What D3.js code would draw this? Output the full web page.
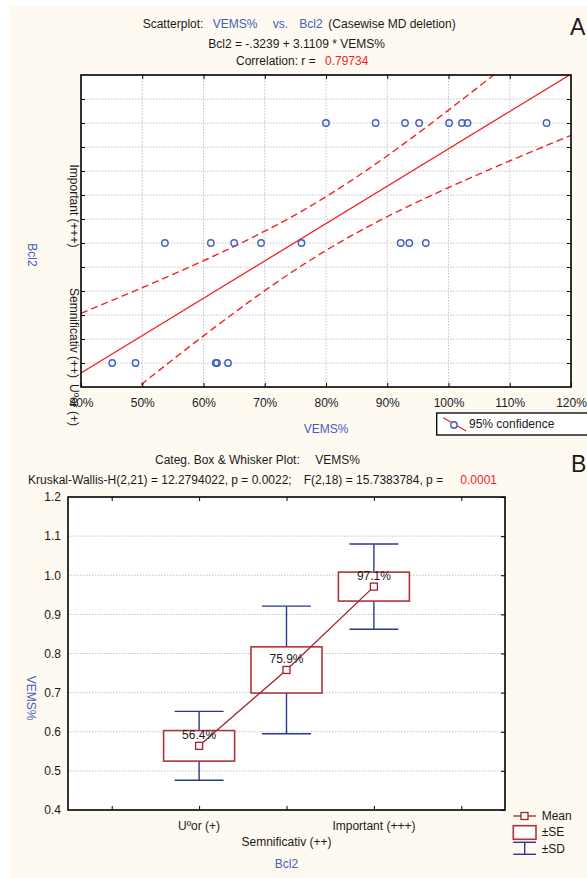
<!DOCTYPE html>
<html lang="en">
<head>
<meta charset="utf-8">
<title>VEMS% vs Bcl2</title>
<script src="https://d3js.org/d3.v7.min.js"></script>
<style>
  body { margin: 0; background: #fff; }
  text { font-family: "Liberation Sans", Arial, sans-serif; fill: #1a1a1a; }
</style>
</head>
<body>
<script>
var w = 587, h = 878;

// scatter data: VEMS% per Bcl2 group
var vemsUsor = [45.1, 48.9, 62.0, 62.2, 64.0];
var vemsSemn = [53.7, 61.2, 65.0, 69.4, 76.0, 92.2, 93.6, 96.3];
var vemsImp  = [80.0, 88.1, 92.9, 95.2, 100.1, 102.2, 103.1, 116.0];
var groupCodes = [1, 2, 3];
var groupLabels = ["Uºor (+)", "Semnificativ (++)", "Important (+++)"];
var xTicksA = [40, 50, 60, 70, 80, 90, 100, 110, 120];
var yGridA = [1.0, 1.2, 1.4, 1.6, 1.8, 2.0, 2.2, 2.4, 2.6, 2.8, 3.0, 3.2];

// box & whisker stats (VEMS as fraction)
var boxMeans = [0.564, 0.758, 0.971];
var boxSE = [0.039, 0.059, 0.037];
var boxSD = [0.088, 0.163, 0.109];
var boxPos = [2, 3, 4];
var boxLabels = ["56.4%", "75.9%", "97.1%"];
var xTicksB = [1, 2, 3, 4, 5];
var yTicksB = [0.4, 0.5, 0.6, 0.7, 0.8, 0.9, 1.0, 1.1, 1.2];

var blue = "#4560b8", red = "#f02424", boxRed = "#b0333b", meanRed = "#a3222c", navy = "#2a3790";
var fs = "12px";

var svg = d3.select("body").append("svg").attr("width", w).attr("height", h);
svg.append("rect").attr("x", 9).attr("y", 6).attr("width", w - 9).attr("height", h - 6).attr("fill", "#fef9f1");

// ---------------- panel A ----------------
var xA = d3.scaleLinear().domain([0.4, 1.2]).range([81, 571]);
var yA = d3.scaleLinear().domain([0.8, 3.4]).range([387, 75]);

svg.append("rect").attr("x", 81).attr("y", 75).attr("width", 490).attr("height", 312).attr("fill", "#fff");

svg.append("clipPath").attr("id", "clipA").append("rect")
  .attr("x", 81).attr("y", 75).attr("width", 490).attr("height", 312);

var grid = svg.append("g").attr("stroke", "#c4c4c4").attr("stroke-dasharray", "1.5,1.5").attr("stroke-width", 1);
grid.selectAll("line.v").data(xTicksA.slice(1, -1)).enter().append("line")
  .attr("x1", d => xA(d / 100)).attr("x2", d => xA(d / 100)).attr("y1", 75).attr("y2", 387);
grid.selectAll("line.h").data(yGridA).enter().append("line")
  .attr("y1", d => yA(d)).attr("y2", d => yA(d)).attr("x1", 81).attr("x2", 571);

// build points and fit
var pts = [];
[vemsUsor, vemsSemn, vemsImp].forEach(function(arr, i) {
  arr.forEach(function(v) { pts.push({x: v / 100, y: groupCodes[i]}); });
});
var n = pts.length;
var mx = d3.mean(pts, d => d.x), my = d3.mean(pts, d => d.y);
var sxx = d3.sum(pts, d => (d.x - mx) * (d.x - mx));
var sxy = d3.sum(pts, d => (d.x - mx) * (d.y - my));
var slope = sxy / sxx, icpt = my - slope * mx;
var sse = d3.sum(pts, d => Math.pow(d.y - (icpt + slope * d.x), 2));
var se = Math.sqrt(sse / (n - 2));
var tval = 2.093;
var xs = d3.range(0, 101).map(i => 0.4 + i * 0.008);
function band(sign) {
  return xs.map(x => [x, icpt + slope * x + sign * tval * se * Math.sqrt(1 / n + (x - mx) * (x - mx) / sxx)]);
}
var lineA = d3.line().x(d => xA(d[0])).y(d => yA(d[1]));
var fitG = svg.append("g").attr("clip-path", "url(#clipA)").attr("fill", "none").attr("stroke", red);
fitG.append("path").attr("d", lineA([[0.4, icpt + slope * 0.4], [1.2, icpt + slope * 1.2]])).attr("stroke-width", 1.3);
fitG.append("path").attr("d", lineA(band(1))).attr("stroke-width", 1.4).attr("stroke-dasharray", "7,4");
fitG.append("path").attr("d", lineA(band(-1))).attr("stroke-width", 1.4).attr("stroke-dasharray", "7,4");

svg.append("g").selectAll("circle").data(pts).enter().append("circle")
  .attr("cx", d => xA(d.x)).attr("cy", d => yA(d.y)).attr("r", 3.2)
  .attr("fill", "none").attr("stroke", blue).attr("stroke-width", 1.4);

// ticks
var axB = svg.append("g").attr("transform", "translate(0,387)")
  .call(d3.axisBottom(xA).tickValues(xTicksA.map(d => d / 100)).tickSize(-4).tickPadding(11)
    .tickFormat(d => Math.round(d * 100) + "%"));
axB.select(".domain").remove();
axB.selectAll("text").attr("font-size", fs).attr("fill", "#1a1a1a");
var axT = svg.append("g").attr("transform", "translate(0,75)")
  .call(d3.axisTop(xA).tickValues(xTicksA.slice(1, -1).map(d => d / 100)).tickSize(-4).tickFormat(""));
axT.select(".domain").remove();
var axL = svg.append("g").attr("transform", "translate(81,0)")
  .call(d3.axisLeft(yA).tickValues(yGridA).tickSize(-4).tickFormat(""));
axL.select(".domain").remove();
var axR = svg.append("g").attr("transform", "translate(571,0)")
  .call(d3.axisRight(yA).tickValues(yGridA).tickSize(-4).tickFormat(""));
axR.select(".domain").remove();
svg.selectAll(".tick line").attr("stroke", "#000");

svg.append("rect").attr("x", 81).attr("y", 75).attr("width", 490).attr("height", 312)
  .attr("fill", "none").attr("stroke", "#000").attr("stroke-width", 1.6);

// rotated category labels (Statistica places them offset by their own length)
groupCodes.forEach(function(g, i) {
  var t = svg.append("text").attr("font-size", fs).text(groupLabels[i]);
  var len = t.node().getComputedTextLength();
  t.attr("transform", "translate(74," + (yA(g) + len / 2) + ") rotate(90)")
   .attr("text-anchor", "start").attr("dy", "0.35em");
});
svg.append("text").attr("transform", "translate(32,255) rotate(90)").attr("text-anchor", "middle")
  .attr("dy", "0.35em").attr("font-size", fs).style("fill", blue).text("Bcl2");
svg.append("text").attr("x", 326).attr("y", 432.5).attr("text-anchor", "middle")
  .attr("font-size", fs).style("fill", blue).text("VEMS%");

// titles A
var t1 = svg.append("text").attr("y", 28.3).attr("font-size", fs);
t1.append("tspan").attr("x", 142.7).text("Scatterplot:");
t1.append("tspan").attr("x", 212.7).style("fill", blue).text("VEMS%");
t1.append("tspan").attr("x", 272.7).style("fill", blue).text("vs.");
t1.append("tspan").attr("x", 299.3).style("fill", blue).text("Bcl2");
t1.append("tspan").attr("x", 328.3).text("(Casewise MD deletion)");
svg.append("text").attr("x", 208.3).attr("y", 47.7).attr("font-size", fs).text("Bcl2 = -.3239 + 3.1109 * VEMS%");
var t3 = svg.append("text").attr("y", 65).attr("font-size", fs);
t3.append("tspan").attr("x", 236).text("Correlation: r =");
t3.append("tspan").attr("x", 325).style("fill", red).text("0.79734");
svg.append("text").attr("x", 570).attr("y", 35).attr("font-size", "23px").text("A");

// legend A
svg.append("rect").attr("x", 436.7).attr("y", 413).attr("width", 160).attr("height", 22)
  .attr("fill", "#fff").attr("stroke", "#000").attr("stroke-width", 1.3);
svg.append("line").attr("x1", 443.3).attr("y1", 417.7).attr("x2", 466).attr("y2", 431)
  .attr("stroke", red).attr("stroke-width", 1.3);
svg.append("circle").attr("cx", 454).attr("cy", 425).attr("r", 3.2)
  .attr("fill", "#fff").attr("stroke", blue).attr("stroke-width", 1.4);
svg.append("text").attr("x", 469).attr("y", 428.3).attr("font-size", fs).text("95% confidence");

// ---------------- panel B ----------------
var xB = d3.scaleLinear().domain([0.5, 5.5]).range([68, 505]);
var yB = d3.scaleLinear().domain([0.4, 1.2]).range([810, 497]);

svg.append("rect").attr("x", 68).attr("y", 497).attr("width", 437).attr("height", 313).attr("fill", "#fff");
svg.append("g").attr("stroke", "#c4c4c4").attr("stroke-dasharray", "1.5,1.5")
  .selectAll("line").data(yTicksB.slice(1, -1)).enter().append("line")
  .attr("x1", 68).attr("x2", 505).attr("y1", d => yB(d)).attr("y2", d => yB(d));

var bxT = svg.append("g").attr("transform", "translate(0,497)")
  .call(d3.axisTop(xB).tickValues(xTicksB).tickSize(-4).tickFormat(""));
bxT.select(".domain").remove();
var bxB = svg.append("g").attr("transform", "translate(0,810)")
  .call(d3.axisBottom(xB).tickValues(xTicksB).tickSize(-4).tickFormat(""));
bxB.select(".domain").remove();
var byR = svg.append("g").attr("transform", "translate(505,0)")
  .call(d3.axisRight(yB).tickValues(yTicksB).tickSize(-4).tickFormat(""));
byR.select(".domain").remove();
var byL = svg.append("g").attr("transform", "translate(68,0)")
  .call(d3.axisLeft(yB).tickValues(yTicksB).tickSize(0).tickPadding(7).tickFormat(d3.format(".1f")));
byL.select(".domain").remove();
byL.selectAll("text").attr("font-size", fs).attr("fill", "#1a1a1a");
svg.selectAll(".tick line").attr("stroke", "#000");

var boxes = boxMeans.map((m, i) => ({pos: boxPos[i], m: m, se: boxSE[i], sd: boxSD[i], lab: boxLabels[i]}));
var bw = 71, cw = 49;
var wg = svg.append("g").attr("stroke", navy).attr("stroke-width", 1.4).attr("fill", "none");
boxes.forEach(function(b) {
  var cx = xB(b.pos);
  wg.append("line").attr("x1", cx).attr("x2", cx).attr("y1", yB(b.m + b.sd)).attr("y2", yB(b.m - b.sd));
  wg.append("line").attr("x1", cx - cw / 2).attr("x2", cx + cw / 2).attr("y1", yB(b.m + b.sd)).attr("y2", yB(b.m + b.sd));
  wg.append("line").attr("x1", cx - cw / 2).attr("x2", cx + cw / 2).attr("y1", yB(b.m - b.sd)).attr("y2", yB(b.m - b.sd));
});
svg.append("g").selectAll("rect").data(boxes).enter().append("rect")
  .attr("x", d => xB(d.pos) - bw / 2).attr("width", bw)
  .attr("y", d => yB(d.m + d.se)).attr("height", d => yB(d.m - d.se) - yB(d.m + d.se))
  .attr("fill", "#fff").attr("stroke", boxRed).attr("stroke-width", 1.6);
svg.append("path").attr("d", d3.line().x(d => xB(d.pos)).y(d => yB(d.m))(boxes))
  .attr("fill", "none").attr("stroke", meanRed).attr("stroke-width", 1.3);
svg.append("g").selectAll("text").data(boxes).enter().append("text")
  .attr("x", d => xB(d.pos)).attr("y", d => yB(d.m) - 7).attr("text-anchor", "middle")
  .attr("font-size", fs).text(d => d.lab);
svg.append("g").selectAll("rect").data(boxes).enter().append("rect")
  .attr("x", d => xB(d.pos) - 3.5).attr("y", d => yB(d.m) - 3.5).attr("width", 7).attr("height", 7)
  .attr("fill", "#fff").attr("stroke", meanRed).attr("stroke-width", 1.3);

svg.append("rect").attr("x", 68).attr("y", 497).attr("width", 437).attr("height", 313)
  .attr("fill", "none").attr("stroke", "#000").attr("stroke-width", 1.6);

// category labels B
boxPos.forEach(function(p, i) {
  svg.append("text").attr("x", xB(p)).attr("y", i === 1 ? 845.5 : 829.5).attr("text-anchor", "middle")
    .attr("font-size", fs).text(groupLabels[i]);
});
svg.append("text").attr("x", xB(3)).attr("y", 868.3).attr("text-anchor", "middle")
  .attr("font-size", fs).style("fill", blue).text("Bcl2");
svg.append("text").attr("transform", "translate(31.7,698) rotate(90)").attr("text-anchor", "middle")
  .attr("dy", "0.35em").attr("font-size", fs).style("fill", blue).text("VEMS%");

// titles B
var b1 = svg.append("text").attr("y", 464).attr("font-size", fs);
b1.append("tspan").attr("x", 155).text("Categ. Box & Whisker Plot:");
b1.append("tspan").attr("x", 315.3).text("VEMS%");
var b2 = svg.append("text").attr("y", 484).attr("font-size", fs);
b2.append("tspan").attr("x", 28).text("Kruskal-Wallis-H(2,21) = 12.2794022, p = 0.0022;");
b2.append("tspan").attr("x", 303.7).text("F(2,18) = 15.7383784, p =");
b2.append("tspan").attr("x", 460.3).style("fill", red).text("0.0001");
svg.append("text").attr("x", 571).attr("y", 471.7).attr("font-size", "23px").text("B");

// legend B
var lg = svg.append("g");
lg.append("line").attr("x1", 513.3).attr("x2", 536).attr("y1", 816).attr("y2", 816).attr("stroke", meanRed).attr("stroke-width", 1.3);
lg.append("rect").attr("x", 521).attr("y", 812.5).attr("width", 7).attr("height", 7).attr("fill", "#fff").attr("stroke", meanRed).attr("stroke-width", 1.3);
lg.append("rect").attr("x", 513.3).attr("y", 825.7).attr("width", 22.7).attr("height", 13.6).attr("fill", "#fff").attr("stroke", boxRed).attr("stroke-width", 1.6);
lg.append("line").attr("x1", 513.3).attr("x2", 536).attr("y1", 842.3).attr("y2", 842.3).attr("stroke", navy).attr("stroke-width", 1.4);
lg.append("line").attr("x1", 513.3).attr("x2", 536).attr("y1", 854.3).attr("y2", 854.3).attr("stroke", navy).attr("stroke-width", 1.4);
lg.append("line").attr("x1", 524.7).attr("x2", 524.7).attr("y1", 842.3).attr("y2", 854.3).attr("stroke", navy).attr("stroke-width", 1.4);
lg.append("text").attr("x", 541.7).attr("y", 820).attr("font-size", fs).text("Mean");
lg.append("text").attr("x", 541.7).attr("y", 836).attr("font-size", fs).text("±SE");
lg.append("text").attr("x", 541.7).attr("y", 853).attr("font-size", fs).text("±SD");
</script>
</body>
</html>
